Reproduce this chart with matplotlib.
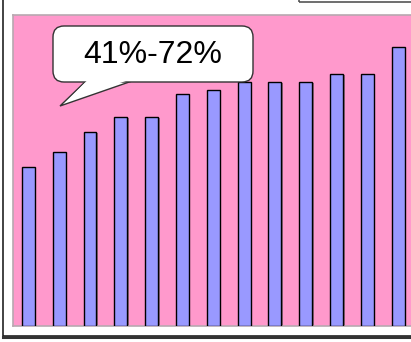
import matplotlib
matplotlib.use("Agg")
import matplotlib.pyplot as plt
from matplotlib.patches import FancyBboxPatch, Polygon, Rectangle
from matplotlib.lines import Line2D
from matplotlib.transforms import IdentityTransform, ScaledTranslation
import numpy as np

plt.rcParams['font.family'] = ['Liberation Sans', 'DejaVu Sans']

# Share per period (%)
categories = [str(i) for i in range(1, 14)]
values = [41, 45, 50, 54, 54, 60, 61, 63, 63, 63, 65, 65, 72]
callout_text = "41%-72%"

W, H = 411, 342
fig = plt.figure(figsize=(W / 100, H / 100), dpi=100)
fig.patch.set_facecolor("white")

px = IdentityTransform()

# outer chart frame (with a darker bottom shadow)
fig.add_artist(Rectangle((3, H - 336), W, 400, transform=px, fill=False,
                         edgecolor="#222222", lw=1.2, zorder=1))
fig.add_artist(Line2D([3, W + 5], [H - 337, H - 337], transform=px,
                      color="#333333", lw=2.2, zorder=1))

# legend box clipped at the top edge
fig.add_artist(Rectangle((299, H - 1.5), 200, 20, transform=px, fill=False,
                         edgecolor="#555555", lw=1.2, zorder=1))

# plot area
left, bottom = 13 / W, (H - 326) / H
top = (H - 15) / H
ax = fig.add_axes([left, bottom, 1 - left, top - bottom])
ax.set_facecolor("#FF99CC")
for side in ["left", "bottom", "top"]:
    ax.spines[side].set_color("#b8a8b0")
    ax.spines[side].set_linewidth(1.2)
ax.spines["right"].set_visible(False)

x = np.arange(len(values))
shadow = ax.transData + ScaledTranslation(1.6 / 100, -1.0 / 100, fig.dpi_scale_trans)
ax.bar(x, values, width=0.42, color="#444444", alpha=0.55, lw=0,
       transform=shadow, zorder=2)
ax.bar(x, values, width=0.42, color="#9999FF", edgecolor="black", lw=1.0, zorder=3)

ax.set_xlim(-0.5, 12.42)
ax.set_ylim(0, 80.3)
ax.set_xticks([])
ax.set_yticks([])

# callout bubble
box_l, box_r, box_t, box_b = 53, 253, 26, 82
tail = [(87, box_b - 2), (60, 106), (135, box_b - 2)]
fig.add_artist(Polygon([(a, H - b) for a, b in tail], closed=True, transform=px,
                       facecolor="white", edgecolor="#333333", lw=1.0, zorder=5))
fig.add_artist(FancyBboxPatch((box_l, H - box_b), box_r - box_l, box_b - box_t,
                              boxstyle="round,pad=0,rounding_size=11", transform=px,
                              facecolor="white", edgecolor="#333333", lw=1.0, zorder=6))
seam = [(88.5, box_b - 3), (68, 100), (132, box_b - 3)]
fig.add_artist(Polygon([(a, H - b) for a, b in seam], closed=True, transform=px,
                       facecolor="white", edgecolor="none", zorder=7))
fig.text(153 / W, 1 - 55 / H, callout_text, fontsize=23, ha="center", va="center",
         color="black", zorder=8)

fig.savefig("out.png", dpi=100)
